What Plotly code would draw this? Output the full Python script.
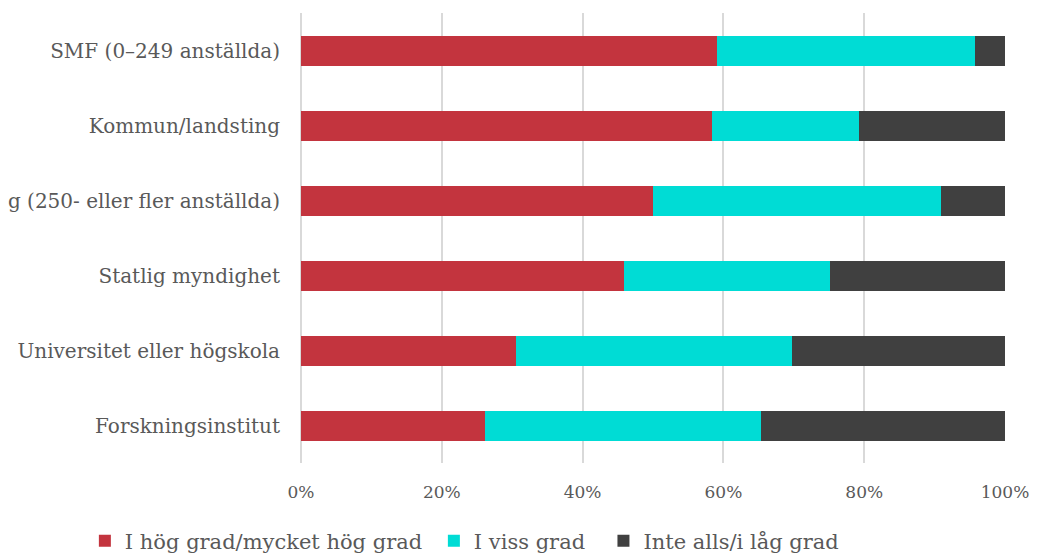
import plotly.graph_objects as go

categories = [
    "Forskningsinstitut",
    "Universitet eller högskola",
    "Statlig myndighet",
    "Företag (250- eller fler anställda)",
    "Kommun/landsting",
    "SMF (0–249 anställda)",
]
hog = [26.1, 30.5, 45.9, 50.0, 58.4, 59.1]
viss = [39.2, 39.2, 29.2, 40.9, 20.8, 36.6]
lag = [34.7, 30.3, 24.9, 9.1, 20.8, 4.3]

series_names = ["I hög grad/mycket hög grad", "I viss grad", "Inte alls/i låg grad"]
colors = ["#C3343E", "#00DCD5", "#404040"]
tick_vals = [0, 20, 40, 60, 80, 100]
tick_text = ["0%", "20%", "40%", "60%", "80%", "100%"]

FONT = "DejaVu Serif"
TXT = "#595959"
PADS = ["\u00a0", "\u00a0\u00a0", ""]

fig = go.Figure()
for name, pad, vals, col in zip(series_names, PADS, [hog, viss, lag], colors):
    fig.add_trace(go.Bar(
        y=categories, x=vals, name=name + pad, orientation="h",
        marker=dict(color=col, line=dict(width=0)),
        width=0.4,
    ))

fig.update_layout(
    barmode="stack",
    width=1029, height=546,
    margin=dict(l=293, r=32, t=5, b=91, autoexpand=False),
    plot_bgcolor="white", paper_bgcolor="white",
    font=dict(family=FONT, size=21, color=TXT),
    showlegend=True,
    legend=dict(
        orientation="h", x=-0.307, xanchor="left", y=-0.128, yanchor="top",
        font=dict(family=FONT, size=21, color=TXT),
        traceorder="normal", itemsizing="constant", itemwidth=30,
    ),
    xaxis=dict(
        range=[0, 100], tickvals=tick_vals, ticktext=tick_text,
        showgrid=True, gridcolor="#D9D9D9", gridwidth=2,
        zeroline=True, zerolinecolor="#D9D9D9", zerolinewidth=2,
        showline=False, ticks="", ticklabelstandoff=17,
        tickfont=dict(family=FONT, size=17, color=TXT),
        automargin=False, fixedrange=True,
    ),
    yaxis=dict(
        showgrid=False, zeroline=False, showline=False, ticks="",
        ticklabelstandoff=20,
        tickfont=dict(family=FONT, size=20, color=TXT),
        automargin=False, range=[-0.5, 5.5],
    ),
)

fig.write_html("out.html")
